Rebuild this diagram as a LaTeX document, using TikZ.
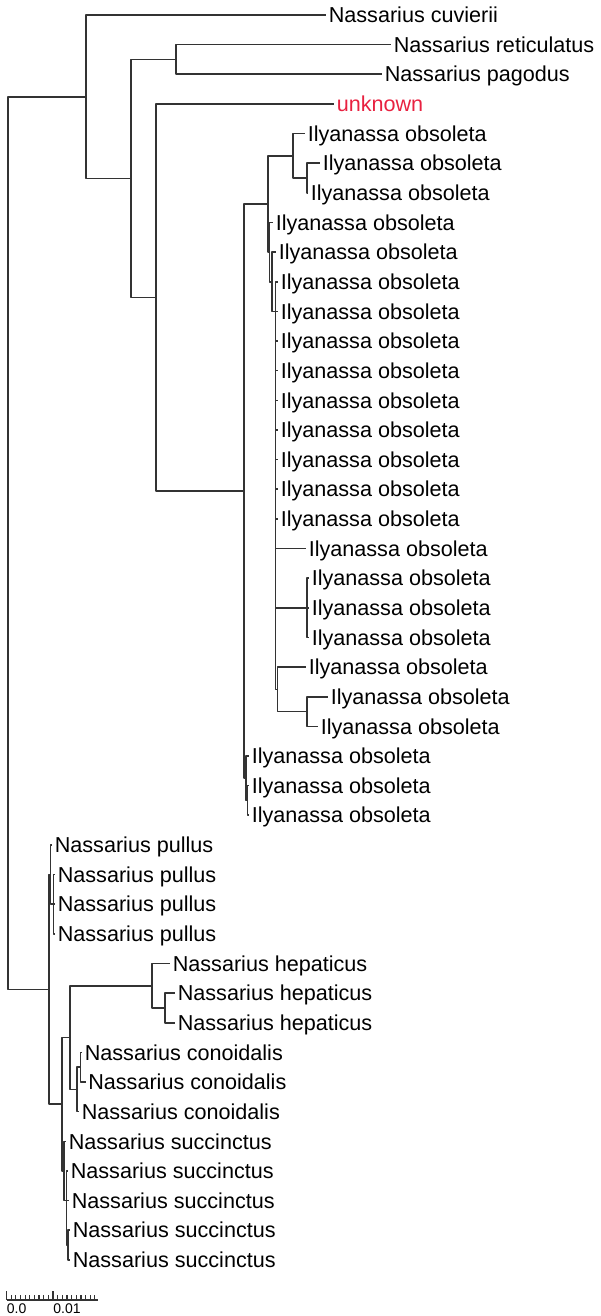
\documentclass[tikz,border=0pt]{standalone}
\usepackage{fontspec}
\setmainfont{Liberation Sans}
\begin{document}
\begin{tikzpicture}[x=.5pt,y=-.5pt,line join=round]
	\definecolor{branchgray}{rgb}{0.2, 0.2, 0.2}
	\definecolor{unknownred}{rgb}{0.91, 0.13, 0.25}
	\tikzset{leaf/.style={anchor=west,inner sep=1.2pt,text height=7.7pt,text depth=0pt,font=\fontsize{10.8}{12}\selectfont},
		branch/.style={branchgray,line width=.8pt}}
	\useasboundingbox (0,0) rectangle (600,1316);
	
	\def\s{29.64}
	% internal nodes of the tree
	\path
	(8,543.07) coordinate (rt)
	(86,96.74) coordinate (A)
	(131,178.48) coordinate (B)
	(176,59.46) coordinate (D)
	(156,297.51) coordinate (C)
	(244,491.1) coordinate (F)
	(268,203.96) coordinate (E)
	(293,155.79) coordinate (G)
	(307,178.02) coordinate (H)
	(269.5,252.12) coordinate (J)
	(272,281.76) coordinate (K)
	(275.5,311.4) coordinate (R)
	(307,607.8) coordinate (N)
	(277.5,689.31) coordinate (Q)
	(307,711.54) coordinate (P)
	(246,778.23) coordinate (S)
	(247.5,800.46) coordinate (S2)
	(49,989.4) coordinate (T)
	(50.5,874.56) coordinate (U)
	(53.5,904.2) coordinate (U2)
	(62,1104.27) coordinate (V)
	(70,1037.58) coordinate (W)
	(152,985.71) coordinate (X)
	(165,1007.94) coordinate (X2)
	(77,1089.45) coordinate (Y)
	(80.5,1067.22) coordinate (Y2)
	(64,1170.96) coordinate (Z)
	(66.5,1200.6) coordinate (Z2)
	(68,1245.06) coordinate (Z3);
	
	\foreach \p/\c in {rt/A,rt/T,A/B,B/D,B/C,C/F,F/E,F/S,E/G,E/J,G/H,J/K,K/R,R/N,R/Q,Q/P,S/S2,
		T/U,T/V,U/U2,V/W,V/Z,W/X,W/Y,X/X2,Y/Y2,Z/Z2,Z2/Z3}{
		\draw[branch] (\p) |- (\c);
	}
	
	% leaves
	\foreach \i/\j/\k/\n in {0/326/A/Nassarius cuvierii,1/391/D/Nassarius reticulatus,2/382/D/Nassarius pagodus}{
		\node[leaf] (t\i) at (\j,15+\i*\s) {\n};
		\draw[branch] (\k) |- (t\i.west);
	}
	\node[leaf,text=unknownred] (t3) at (334,15+3*\s) {unknown};
	\draw[branch] (C) |- (t3.west);
	
	\foreach \i/\j/\k in {4/305/G,5/320/H,6/308/H,7/273/J,8/276/K,9/278/R,10/278/R,11/278/R,12/278/R,
		13/278/R,14/278/R,15/278/R,16/278/R,17/278/R,18/306/R,19/309/N,20/309/N,21/309/N,
		22/306/Q,23/328/P,24/318/P,25/249/S,26/249/S2,27/249/S2}{
		\node[leaf] (t\i) at (\j,15+\i*\s) {Ilyanassa obsoleta};
		\draw[branch] (\k) |- (t\i.west);
	}
	\foreach \i/\j/\k/\n in {28/52/U/pullus,29/55/U2/pullus,30/55/U2/pullus,31/55/U2/pullus,
		32/170/X/hepaticus,33/175/X2/hepaticus,34/175/X2/hepaticus,
		35/82/Y2/conoidalis,36/85.5/Y2/conoidalis,37/79/Y/conoidalis,
		38/66/Z/succinctus,39/68/Z2/succinctus,40/69/Z2/succinctus,41/70/Z3/succinctus,42/70/Z3/succinctus}{
		\node[leaf] (t\i) at (\j,15+\i*\s) {Nassarius \n};
		\draw[branch] (\k) |- (t\i.west);
	}
	
	% scale bar
	\draw[branch,line width=.6pt] (6.5,1300) coordinate (s0) -- (98,1300) coordinate (s1);
	\foreach \m in {0,...,19}{
		\pgfmathsetmacro{\h}{mod(\m,10)==0 ? 9 : 5}
		\draw[branch,line width=.6pt] (6.5+\m*4.65,1300) -- ++(0,-\h);
	}
	\node[anchor=north west,inner sep=0pt,font=\fontsize{7}{8}\selectfont] (z0) at (s0) [yshift=-1.5pt] {0.0};
	\node[anchor=north west,inner sep=0pt,font=\fontsize{7}{8}\selectfont] (z1) at (53,1300) [yshift=-1.5pt] {0.01};
\end{tikzpicture}
\end{document}
